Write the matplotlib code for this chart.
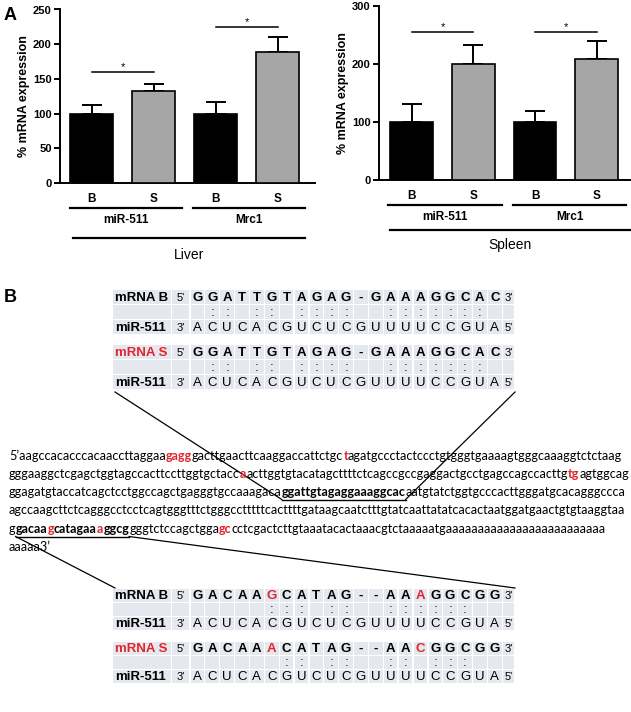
import matplotlib
matplotlib.use("Agg")
import matplotlib.pyplot as plt
from matplotlib.patches import Rectangle
import numpy as np

plt.rcParams['font.family'] = ['Liberation Sans', 'DejaVu Sans']

# ---- panel A data ----
groups = ['B', 'S', 'B', 'S']
genes = ['miR-511', 'Mrc1']
bar_colors = ['black', '#a6a6a6', 'black', '#a6a6a6']

liver_mean = [100, 132, 100, 189]
liver_err = [12, 11, 16, 21]
liver_sig = [160, 225]
liver_ticks = [0, 50, 100, 150, 200, 250]

spleen_mean = [100, 200, 100, 208]
spleen_err = [31, 33, 19, 31]
spleen_sig = [255, 255]
spleen_ticks = [0, 100, 200, 300]

# ---- panel B data ----
mir_seq = "ACUCACGUCUCGUUUUCCGUA"
site1_b = "GGATTGTAGAG-GAAAGGCAC"
site1_s = "GGATTGTAGAG-GAAAGGCAC"
site1_pairs_b = [2, 3, 5, 6, 8, 9, 10, 11, 14, 15, 16, 17, 18, 19, 20]
site1_pairs_s = [2, 3, 5, 6, 8, 9, 10, 11, 14, 15, 16, 17, 18, 19, 20]
site1_red = []
site2_b = "GACAAGCATAG--AAAGGCGG"
site2_s = "GACAAACATAG--AACGGCGG"
site2_pairs_b = [6, 7, 8, 10, 11, 14, 15, 16, 17, 18, 19]
site2_pairs_s = [7, 8, 10, 11, 14, 15, 17, 18, 19]
site2_red = [6, 16]

# 3'UTR sequence rows: (text, style)  n=normal, r=red bold, u=bold underlined, ru=red bold underlined
seq_rows = [
    [("5\u2019aagccacacccacaaccttaggaa", 'n'), ("gagg", 'r'),
     ("gacttgaacttcaaggaccattctgc", 'n'), ("t", 'r'),
     ("agatgccctactccctgtgggtgaaaagtgggcaaaggtctctaag", 'n')],
    [("gggaaggctcgagctggtagccacttccttggtgctacc", 'n'), ("a", 'r'),
     ("acttggtgtacatagcttttctcagccgccgaggactgcctgagccagccacttg", 'n'), ("tg", 'r'),
     ("agtggcag", 'n')],
    [("ggagatgtaccatcagctcctggccagctgagggtgccaaagaca", 'n'), ("ggattgtagaggaaaggcac", 'u'),
     ("aatgtatctggtgcccacttgggatgcacagggccca", 'n')],
    [("agccaagcttctcagggcctcctcagtgggtttctgggcctttttcacttttgataagcaatctttgtatcaattatatcacactaatggatgaactgtgtaaggtaa", 'n')],
    [("g", 'n'), ("gacaa", 'u'), ("g", 'ru'), ("catagaa", 'u'), ("a", 'ru'), ("ggcg", 'u'),
     ("gggtctccagctgga", 'n'), ("gc", 'r'),
     ("cctcgactcttgtaaatacactaaacgtctaaaaatgaaaaaaaaaaaaaaaaaaaaaaaaa", 'n')],
    [("aaaaa3\u2019", 'n')],
]

RED = '#e3262e'
W, H = 631, 712
fig = plt.figure(figsize=(W / 100, H / 100), dpi=100)


def px_axes(l, t, r, b):
    return fig.add_axes([l / W, 1 - b / H, (r - l) / W, (b - t) / H])


def bar_panel(ax, means, errs, sig, ticks, xlim, tissue, spans, offs):
    x = np.arange(len(means))
    ax.bar(x, means, width=0.69, color=bar_colors, edgecolor='black', linewidth=1.2, zorder=3)
    ax.errorbar(x, means, yerr=[np.zeros(len(errs)), errs], fmt='none', ecolor='black',
                elinewidth=1.4, capsize=7, capthick=1.4, zorder=2)
    for (i, j), h in zip([(0, 1), (2, 3)], sig):
        ax.plot([i, j], [h, h], color='black', lw=1.1, clip_on=False)
        ax.annotate('*', xy=((i + j) / 2, h), xytext=(0, 0), textcoords='offset points',
                    ha='center', va='bottom', fontsize=8, annotation_clip=False)
    ax.set_xlim(*xlim)
    ax.set_ylim(0, ticks[-1])
    ax.set_yticks(ticks)
    ax.set_xticks(x)
    ax.set_xticklabels(groups, fontweight='bold', fontsize=8.5)
    ax.tick_params(axis='x', length=0, pad=7)
    ax.tick_params(axis='y', length=4, width=1.4, labelsize=8, pad=2)
    for lab in ax.get_yticklabels():
        lab.set_fontweight('bold')
    ax.spines[['top', 'right']].set_visible(False)
    ax.spines[['left', 'bottom']].set_linewidth(1.4)
    ax.set_ylabel('% mRNA expression', fontweight='bold', fontsize=9, labelpad=2)

    # group brackets under the axis (offsets in pixels below the baseline)
    tr = ax.get_xaxis_transform()
    hpx = ax.bbox.height
    line_y, gene_y, big_y, tissue_y = [-o / hpx for o in offs]
    for (a, b), g in zip(spans[:2], genes):
        ax.plot([a, b], [line_y, line_y], transform=tr, color='black', lw=1.6, clip_on=False)
        ax.text((a + b) / 2, gene_y, g, transform=tr, ha='center', va='center',
                fontweight='bold', fontsize=8.5)
    a, b = spans[2]
    ax.plot([a, b], [big_y, big_y], transform=tr, color='black', lw=1.6, clip_on=False)
    ax.text((a + b) / 2, tissue_y, tissue, transform=tr, ha='center', va='center', fontsize=10)


ax_l = px_axes(60, 9.5, 315, 183)
bar_panel(ax_l, liver_mean, liver_err, liver_sig, liver_ticks, (-0.51, 3.6), 'Liver',
          [(-0.35, 1.46), (1.64, 3.44), (-0.3, 3.44)], (25, 37, 55, 72))

ax_r = px_axes(379, 6, 630, 180)
bar_panel(ax_r, spleen_mean, spleen_err, spleen_sig, spleen_ticks, (-0.53, 3.54), 'Spleen',
          [(-0.38, 1.46), (1.65, 3.48), (-0.35, 3.54)], (25, 37, 50, 65))

# ---- panel B: overlay in pixel coordinates ----
ax_b = fig.add_axes([0, 0, 1, 1])
ax_b.set_xlim(0, W)
ax_b.set_ylim(H, 0)
ax_b.axis('off')
ax_b.patch.set_visible(False)

fig.text(4 / W, 1 - 15 / H, 'A', fontsize=13, fontweight='bold', va='center')
fig.text(4 / W, 1 - 298 / H, 'B', fontsize=13, fontweight='bold', va='center')

cell_color = '#e5e8ee'
lab_x0, lab_x1 = 113, 172
col_edges = [172] + [190.6 + 14.87 * k for k in range(22)] + [515]
gap = 1.3


def align_block(top, row_h, label, label_color, mrna, pairs, red):
    n = len(mrna)
    top_row = ["5'"] + list(mrna) + ["3'"]
    mid_row = [''] + [':' if k + 1 in pairs else '' for k in range(n)] + ['']
    bot_row = ["3'"] + list(mir_seq) + ["5'"]
    rows = [(label, label_color, top_row), ('', 'black', mid_row), ('miR-511', 'black', bot_row)]
    for r, (lab, lcol, cells) in enumerate(rows):
        y0 = top + r * row_h
        yb = y0 + row_h - 4
        ax_b.add_patch(Rectangle((lab_x0, y0), lab_x1 - lab_x0 - gap, row_h - gap,
                                 fc=cell_color, ec='none'))
        if lab:
            ax_b.text(lab_x0 + 2, yb, lab, color=lcol, fontweight='bold', fontsize=9.5,
                      va='baseline')
        for c, s in enumerate(cells):
            x0, x1 = col_edges[c], col_edges[c + 1]
            ax_b.add_patch(Rectangle((x0, y0), x1 - x0 - gap, row_h - gap, fc=cell_color, ec='none'))
            if not s:
                continue
            end = c == 0 or c == len(cells) - 1
            col = RED if (r == 0 and c in red) else 'black'
            ax_b.text((x0 + x1 - gap) / 2, yb, s, ha='center', va='baseline', color=col,
                      fontsize=8 if end else 9.5,
                      fontweight='bold' if (r == 0 and not end) else 'normal')
    return top + 3 * row_h


b1_bot = align_block(290, 15, 'mRNA B', 'black', site1_b, site1_pairs_b, site1_red)
b2_bot = align_block(345, 15, 'mRNA S', RED, site1_s, site1_pairs_s, site1_red)
b3_top = 589
align_block(b3_top, 14, 'mRNA B', 'black', site2_b, site2_pairs_b, site2_red)
align_block(642, 14, 'mRNA S', RED, site2_s, site2_pairs_s, site2_red)

# ---- 3'UTR sequence text ----
seq_font = ['Lato', 'DejaVu Sans']
renderer = fig.canvas.get_renderer()


def text_width(s, weight, size):
    t = ax_b.text(0, 0, s, fontsize=size, fontweight=weight, family=seq_font)
    w = t.get_window_extent(renderer).width
    t.remove()
    return w


seq_size = 10 * 613 / text_width(seq_rows[3][0][0], 'normal', 10)
seq_x0 = 9
row_base = [460, 478, 496, 514.5, 533, 551]
underlines = {}
for i, row in enumerate(seq_rows):
    x = seq_x0
    for s, st in row:
        weight = 'normal' if st == 'n' else 'bold'
        col = RED if st.startswith('r') else 'black'
        ax_b.text(x, row_base[i], s, fontsize=seq_size, fontweight=weight, color=col,
                  family=seq_font, ha='left', va='baseline')
        w = text_width(s, weight, seq_size)
        if 'u' in st:
            u0, u1 = underlines.get(i, (x, x))
            underlines[i] = (min(u0, x), x + w)
        x += w

for i, (u0, u1) in underlines.items():
    ax_b.plot([u0, u1], [row_base[i] + 3.5] * 2, color='black', lw=1.0)

# connector lines between the alignment blocks and the binding sites
u0, u1 = underlines[2]
uy = row_base[2] + 3.5
ax_b.plot([lab_x0 + 2, u0], [b2_bot + 2, uy], color='black', lw=0.9)
ax_b.plot([col_edges[-1], u1], [b2_bot + 2, uy], color='black', lw=0.9)
u0, u1 = underlines[4]
uy = row_base[4] + 3.5
ax_b.plot([u0, lab_x0 + 2], [uy, b3_top - 1], color='black', lw=0.9)
ax_b.plot([u1, col_edges[-1]], [uy, b3_top - 1], color='black', lw=0.9)

fig.savefig('out.png', dpi=100)
